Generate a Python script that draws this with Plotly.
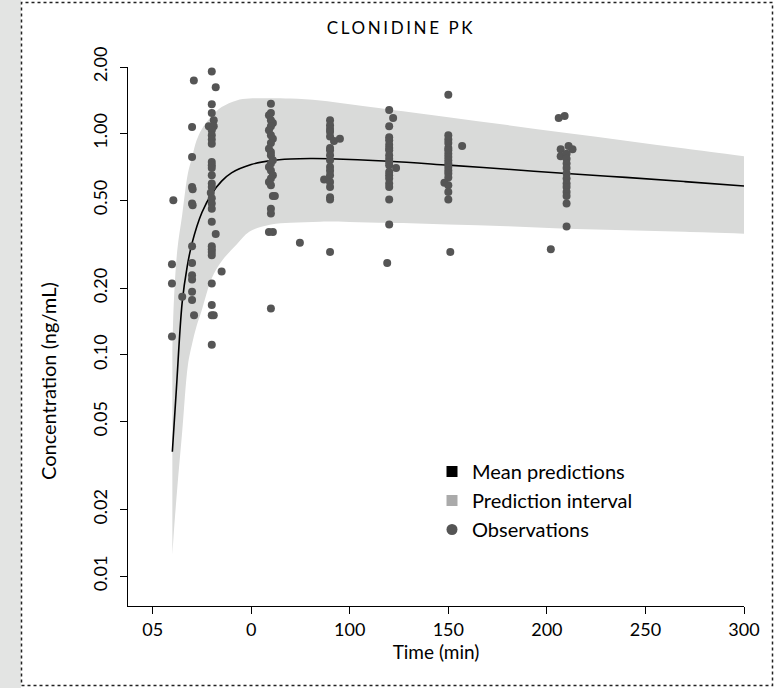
import plotly.graph_objects as go

# ---------------- data ----------------
x_tickvals = [0, 50, 100, 150, 200, 250, 300]
x_ticktext = ["05", "0", "100", "150", "200", "250", "300"]
y_tickvals = [0.01, 0.02, 0.05, 0.1, 0.2, 0.5, 1, 2]
y_ticktext = ["0.01", "0.02", "0.05", "0.10", "0.20", "0.50", "1.00", "2.00"]

pred_time = [10, 12, 15, 17.5, 20, 25, 30, 35, 40, 50, 60, 70, 80, 90, 120, 150, 180, 210, 240, 270, 300]
mean_pred = [0.0365, 0.069, 0.173, 0.25, 0.32, 0.44, 0.535, 0.61, 0.665, 0.725, 0.755, 0.768, 0.772,
             0.77, 0.75, 0.72, 0.69, 0.66, 0.634, 0.607, 0.58]

pi_time = [10, 10.8, 12.5, 15, 17.9, 20, 22.3, 25, 30, 35, 42.6, 49, 60, 70, 85, 100, 120, 150, 180,
           210, 240, 270, 300]
pi_upper = [0.105, 0.177, 0.297, 0.43, 0.662, 0.78, 0.932, 1.05, 1.2, 1.318, 1.413, 1.44, 1.445, 1.44,
            1.413, 1.357, 1.286, 1.185, 1.093, 1.007, 0.929, 0.856, 0.79]
pi_lower = [0.0125, 0.016, 0.025, 0.045, 0.09, 0.112, 0.135, 0.16, 0.222, 0.265, 0.315, 0.36, 0.388,
            0.395, 0.40, 0.399, 0.395, 0.388, 0.381, 0.372, 0.366, 0.36, 0.353]

obs_time = [
    # ~10 min
    10.5, 9.8, 9.8, 9.8, 15.0,
    # ~20 min
    20.9, 20, 20, 20, 20.3, 20, 20.3, 20, 20, 20, 20, 20, 20, 21,
    # ~30 min
    30, 32, 30, 30, 31, 28.5, 31, 30, 30, 30, 30, 30, 30, 30, 30, 30, 30, 29.5, 30, 30, 30, 30,
    32, 30, 30, 30, 30, 35, 30, 30, 30, 31, 30,
    # ~60 min
    60, 60, 59, 60, 61, 60, 59, 60, 61, 60, 59, 60, 60, 61, 60, 59, 60, 61, 60, 59, 60, 61,
    62, 60, 60, 59, 61, 60, 74.7,
    # ~90 min
    90, 90, 90, 90, 90, 92, 95, 90, 90, 90, 90, 90, 90, 90, 87, 90, 90, 90, 90, 90,
    # ~120 min
    120, 122, 120, 120, 120, 120, 120, 120, 120, 120, 120, 120, 123.5, 120, 120, 120, 120, 120,
    120, 120, 119,
    # ~150 min
    150, 150, 150, 150, 150, 157, 150, 150, 150, 150, 150, 150, 150, 150, 150, 148, 150, 150,
    150, 151,
    # ~210 min
    206, 209, 207, 211, 213, 207, 210, 210, 210, 210, 210, 210, 210, 210, 210, 210, 210, 210, 202,
]
obs_conc = [
    # ~10 min
    0.50, 0.257, 0.21, 0.121, 0.183,
    # ~20 min
    1.74, 1.07, 0.784, 0.574, 0.56, 0.483, 0.474, 0.31, 0.26, 0.229, 0.219, 0.193, 0.177, 0.151,
    # ~30 min
    1.91, 1.62, 1.356, 1.238, 1.148, 1.08, 1.08, 1.035, 0.982, 0.94, 0.90, 0.745, 0.72, 0.70,
    0.648, 0.595, 0.574, 0.54, 0.51, 0.483, 0.458, 0.40,
    0.352, 0.31, 0.30, 0.292, 0.282, 0.238, 0.21, 0.168, 0.151, 0.151, 0.111,
    # ~60 min
    1.366, 1.238, 1.21, 1.148, 1.116, 1.079, 1.035, 0.982, 0.949, 0.906, 0.855, 0.826, 0.798,
    0.757, 0.732, 0.706, 0.682, 0.648, 0.626, 0.604, 0.584, 0.523,
    0.523, 0.458, 0.435, 0.359, 0.359, 0.162, 0.321,
    # ~90 min
    1.148, 1.09, 1.05, 1.02, 0.97, 0.925, 0.949, 0.86, 0.84, 0.798, 0.757, 0.706, 0.68, 0.648,
    0.62, 0.604, 0.574, 0.516, 0.504, 0.292,
    # ~120 min
    1.28, 1.175, 1.08, 0.962, 0.932, 0.89, 0.86, 0.84, 0.798, 0.77, 0.745, 0.72, 0.70, 0.67,
    0.648, 0.626, 0.595, 0.574, 0.504, 0.388, 0.26,
    # ~150 min
    1.50, 0.982, 0.94, 0.906, 0.86, 0.88, 0.84, 0.81, 0.784, 0.757, 0.732, 0.706, 0.682, 0.66,
    0.634, 0.60, 0.584, 0.545, 0.504, 0.292,
    # ~210 min
    1.175, 1.20, 0.85, 0.88, 0.85, 0.79, 0.81, 0.77, 0.732, 0.70, 0.66, 0.626, 0.595, 0.574,
    0.545, 0.523, 0.483, 0.38, 0.30,
]

legend_labels = ["Mean predictions", "Prediction interval", "Observations"]

# ---------------- styling ----------------
W, H = 775, 688
L, R, T, B = 128, 31, 67, 82
PW, PH = W - L - R, H - T - B
FONT = "Lato"
DOT = "#555555"
BAND = "#d9dad9"


def px_x(px):
    return (px - L) / PW


def px_y(py):
    return (H - B - py) / PH


fig = go.Figure()

fig.add_trace(go.Scatter(x=pi_time, y=pi_lower, mode="lines", line=dict(width=0, shape="spline"),
                         showlegend=False, hoverinfo="skip"))
fig.add_trace(go.Scatter(x=pi_time, y=pi_upper, mode="lines", line=dict(width=0, shape="spline"),
                         fill="tonexty", fillcolor=BAND, showlegend=False, hoverinfo="skip"))
fig.add_trace(go.Scatter(x=pred_time, y=mean_pred, mode="lines",
                         line=dict(color="black", width=1.6, shape="spline"), showlegend=False))
fig.add_trace(go.Scatter(x=obs_time, y=obs_conc, mode="markers",
                         marker=dict(color=DOT, size=8), showlegend=False))

# legend entries
leg_symbols = ["square", "square", "circle"]
leg_colors = ["black", "#aaaaaa", DOT]
for lab, sym, col in zip(legend_labels, leg_symbols, leg_colors):
    fig.add_trace(go.Scatter(x=[None], y=[None], mode="markers", name=lab,
                             marker=dict(symbol=sym, color=col, size=11)))

fig.update_layout(
    width=W, height=H,
    margin=dict(l=L, r=R, t=T, b=B),
    paper_bgcolor="white", plot_bgcolor="white",
    font=dict(family=FONT, size=17, color="black"),
    title=dict(text='<span style="letter-spacing:2.6px">CLONIDINE PK</span>', x=401 / W,
               xanchor="center", y=1 - 28 / H, yanchor="middle",
               font=dict(family=FONT, size=17, color="black")),
    showlegend=True,
    legend=dict(x=px_x(432), y=px_y(452), xanchor="left", yanchor="top", traceorder="normal",
                bgcolor="rgba(0,0,0,0)", font=dict(family=FONT, size=20), itemwidth=30,
                tracegroupgap=0),
    xaxis=dict(range=[-12.5, 300], tickmode="array", tickvals=x_tickvals, ticktext=x_ticktext,
               showline=True, linecolor="black", linewidth=1.2, ticks="outside", ticklen=7,
               tickcolor="black", showgrid=False, zeroline=False,
               tickfont=dict(family=FONT, size=18),
               title=dict(text="Time (min)", font=dict(family=FONT, size=19), standoff=0)),
    yaxis=dict(type="log", range=[-2.135, 0.30103], tickmode="array", tickvals=y_tickvals,
               ticktext=y_ticktext, tickangle=-90, ticklabelstandoff=6,
               showline=True, linecolor="black", linewidth=1.2, ticks="outside", ticklen=7,
               tickcolor="black", showgrid=False, zeroline=False,
               tickfont=dict(family=FONT, size=18)),
    annotations=[
        dict(text="Concentration (ng/mL)", xref="paper", yref="paper", x=px_x(48), y=px_y(381),
             xanchor="center", yanchor="middle", textangle=-90, showarrow=False,
             font=dict(family=FONT, size=20, color="black")),
    ],
    shapes=[
        dict(type="rect", xref="paper", yref="paper", x0=px_x(0), x1=px_x(21), y0=px_y(H), y1=px_y(0),
             fillcolor="#e3e4e3", line=dict(width=0), layer="below"),
        dict(type="rect", xref="paper", yref="paper", x0=px_x(21.5), x1=px_x(772.5), y0=px_y(685.5),
             y1=px_y(2.5), fillcolor="rgba(0,0,0,0)", line=dict(color="#222222", width=1.5, dash="dot")),
    ],
)

fig.write_html("out.html")
